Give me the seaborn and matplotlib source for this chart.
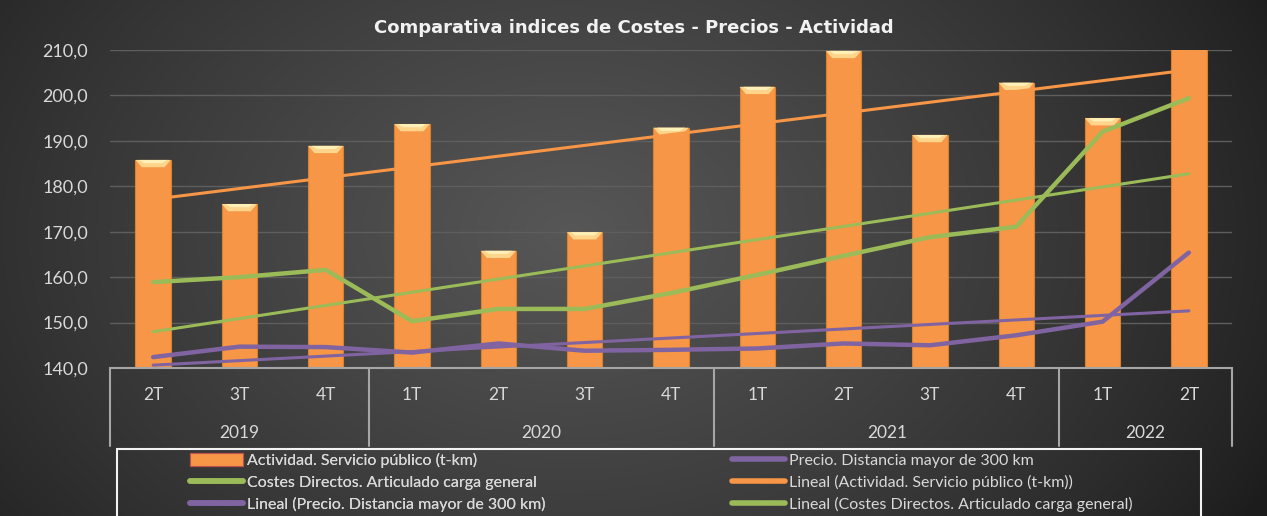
import numpy as np
import pandas as pd
import matplotlib.pyplot as plt
import matplotlib.transforms as mtransforms
from matplotlib.patches import Polygon, Rectangle, Patch
from matplotlib.lines import Line2D
from matplotlib.ticker import FuncFormatter
import seaborn as sns

# datos
years = ['2019'] * 3 + ['2020'] * 4 + ['2021'] * 4 + ['2022'] * 2
quarters = ['2T', '3T', '4T', '1T', '2T', '3T', '4T', '1T', '2T', '3T', '4T', '1T', '2T']
actividad = [185.8, 176.1, 188.9, 193.7, 165.8, 169.9, 192.9, 201.9, 209.8, 191.3, 202.8, 195.0, 214.0]
costes = [158.9, 160.0, 161.6, 150.3, 153.0, 153.0, 156.5, 160.5, 164.7, 168.8, 171.1, 192.0, 199.4]
precio = [142.4, 144.7, 144.6, 143.4, 145.4, 143.8, 144.0, 144.3, 145.4, 145.0, 147.2, 150.2, 165.4]

lab_act = 'Actividad. Servicio público (t-km)'
lab_cos = 'Costes Directos. Articulado carga general'
lab_pre = 'Precio. Distancia mayor de 300 km'
title = 'Comparativa indices de Costes - Precios - Actividad'

df = pd.DataFrame({'year': years, 'quarter': quarters, 'actividad': actividad,
                   'costes': costes, 'precio': precio})
df['pos'] = np.arange(len(df))

orange = '#F79646'
green = '#9BBB59'
purple = '#8064A2'
txt = '#D9D9D9'

sns.set_theme(style='white')
plt.rcParams['font.family'] = ['Lato', 'DejaVu Sans']

fig = plt.figure(figsize=(12.67, 5.16), dpi=100)
fig.patch.set_facecolor('#262626')

# fondo degradado
bg = fig.add_axes([0, 0, 1, 1], zorder=-10)
X, Y = np.meshgrid(np.linspace(0, 1, 400), np.linspace(0, 1, 200))
r = np.sqrt(((X - 0.45) / 0.62) ** 2 + ((Y - 0.55) / 1.1) ** 2)
v = np.clip(1 - r, 0, 1) ** 0.8
dark, light = np.array([0.11, 0.11, 0.11]), np.array([0.34, 0.34, 0.34])
img = dark + (light - dark) * v[..., None]
bg.imshow(img, extent=[0, 1, 0, 1], aspect='auto', origin='lower')
bg.axis('off')

ax = fig.add_axes([110 / 1267, 1 - 368 / 516, 1122 / 1267, 318 / 516])
ax.set_facecolor('none')

sns.barplot(data=df, x='pos', y='actividad', color=orange, width=0.41,
            saturation=1, edgecolor='#D9822B', linewidth=0.8, ax=ax, zorder=2)

# brillo superior de las barras
for p in ax.patches:
    x0, w, top = p.get_x(), p.get_width(), p.get_height()
    ax.add_patch(Polygon([(x0, top), (x0 + w, top), (x0 + w * 0.82, top - 1.6),
                          (x0 + w * 0.18, top - 1.6)], closed=True,
                         facecolor='#FFD58C', edgecolor='none', zorder=3))
    ax.add_patch(Polygon([(x0 + w * 0.1, top), (x0 + w * 0.9, top), (x0 + w * 0.75, top - 0.7),
                          (x0 + w * 0.25, top - 0.7)], closed=True,
                         facecolor='#FFF0B8', edgecolor='none', zorder=3))

sns.lineplot(data=df, x='pos', y='costes', color=green, lw=3.2, ax=ax, zorder=5)
sns.lineplot(data=df, x='pos', y='precio', color=purple, lw=3.2, ax=ax, zorder=5)

# lineas de tendencia lineal
sns.regplot(data=df, x='pos', y='actividad', scatter=False, ci=None, truncate=True,
            color=orange, line_kws={'lw': 2.2, 'zorder': 4}, ax=ax)
sns.regplot(data=df, x='pos', y='costes', scatter=False, ci=None, truncate=True,
            color=green, line_kws={'lw': 2.2, 'zorder': 4}, ax=ax)
sns.regplot(data=df, x='pos', y='precio', scatter=False, ci=None, truncate=True,
            color=purple, line_kws={'lw': 2.2, 'zorder': 4}, ax=ax)

ax.set_xlim(-0.5, len(df) - 0.5)
ax.set_ylim(140, 210)
ax.set_yticks(np.arange(140, 211, 10))
ax.yaxis.set_major_formatter(FuncFormatter(lambda v, p: f'{v:.1f}'.replace('.', ',')))
ax.tick_params(axis='y', colors=txt, labelsize=13, length=0, pad=16)
ax.set_xticks([])
ax.set_xlabel('')
ax.set_ylabel('')
ax.yaxis.grid(True, color='#5E5E5E', lw=1)
ax.set_axisbelow(True)
for s in ['left', 'right', 'top']:
    ax.spines[s].set_visible(False)
ax.spines['bottom'].set_color('#A6A6A6')
ax.spines['bottom'].set_linewidth(1.5)

# eje de categorias en dos niveles
trans = mtransforms.blended_transform_factory(ax.transData, ax.transAxes)
for i, q in enumerate(df['quarter']):
    ax.text(i, -0.085, q, transform=trans, ha='center', va='center', color=txt, fontsize=12.5)
groups = df.groupby('year', sort=False)['pos'].agg(['min', 'max'])
for y, row in groups.iterrows():
    ax.text((row['min'] + row['max']) / 2, -0.205, y, transform=trans, ha='center',
            va='center', color=txt, fontsize=12.5)
edges = [groups['min'].iloc[0] - 0.5] + list(groups['max'] + 0.5)
for e in edges:
    ax.plot([e, e], [0, -0.245], transform=trans, color='#A6A6A6', lw=1.5, clip_on=False)

fig.text(0.5, 1 - 28 / 516, title, ha='center', va='center', color='#F2F2F2',
         fontsize=13, fontweight='bold', family=['DejaVu Sans'])

# leyenda
fig.patches.append(Rectangle((117 / 1267, -0.1), 1084 / 1267, 0.1 + 1 - 449 / 516,
                             transform=fig.transFigure, facecolor='none',
                             edgecolor='#F2F2F2', lw=1.5))
h1 = [Patch(facecolor=orange, edgecolor='#C0504D', lw=0.8),
      Line2D([], [], color=green, lw=4, solid_capstyle='round'),
      Line2D([], [], color=purple, lw=4, solid_capstyle='round')]
l1 = [lab_act, lab_cos, 'Lineal (' + lab_pre + ')']
h2 = [Line2D([], [], color=purple, lw=4, solid_capstyle='round'),
      Line2D([], [], color=orange, lw=4, solid_capstyle='round'),
      Line2D([], [], color=green, lw=4, solid_capstyle='round')]
l2 = [lab_pre, 'Lineal (' + lab_act + ')', 'Lineal (' + lab_cos + ')']
kw = dict(loc='upper left', frameon=False, fontsize=11.5, labelcolor=txt,
          handlelength=3.3, handletextpad=0.25, labelspacing=0.44, borderpad=0,
          borderaxespad=0, handleheight=0.85)
leg1 = fig.legend(h1, l1, bbox_to_anchor=(190 / 1267, 1 - 453 / 516), **kw)
fig.add_artist(leg1)
fig.legend(h2, l2, bbox_to_anchor=(732 / 1267, 1 - 453 / 516), **kw)

fig.savefig('out.png', dpi=100, facecolor=fig.get_facecolor())
